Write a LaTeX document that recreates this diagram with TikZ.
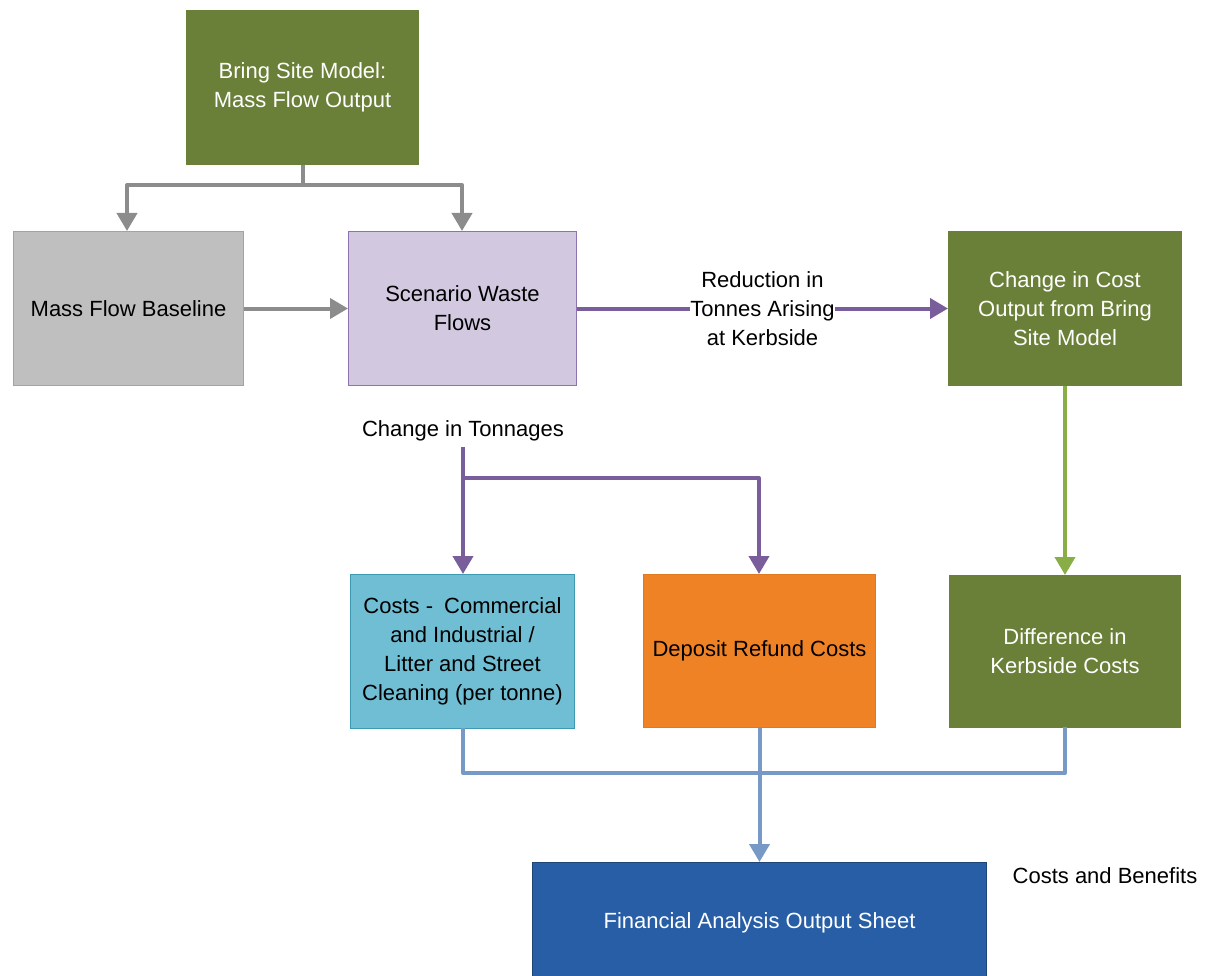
\documentclass[tikz,border=0pt]{standalone}
\usepackage{fontspec}
\setmainfont{Liberation Sans}
\usetikzlibrary{arrows.meta}
\definecolor{olive}{HTML}{6A7F37}
\definecolor{oliveline}{HTML}{8AAE47}
\definecolor{grayfill}{HTML}{BFBFBF}
\definecolor{grayline}{HTML}{8C8C8C}
\definecolor{lavfill}{HTML}{D2C9E0}
\definecolor{lavline}{HTML}{8F73B0}
\definecolor{purp}{HTML}{7A5E9C}
\definecolor{cyanfill}{HTML}{70BED3}
\definecolor{cyanline}{HTML}{3C9AB2}
\definecolor{orangefill}{HTML}{F08226}
\definecolor{orangeline}{HTML}{E07A20}
\definecolor{bluefill}{HTML}{285EA6}
\definecolor{blueline}{HTML}{1D4577}
\definecolor{lblue}{HTML}{7799C6}
\tikzset{
  box/.style={draw, line width=1pt, align=center, inner sep=0pt, anchor=north west, font=\fontsize{22}{29}\selectfont},
  conn/.style={line width=4pt, -{Triangle[length=18pt,width=20pt]}},
  plain/.style={line width=4pt},
  lbl/.style={align=center, text=black, font=\fontsize{22}{29}\selectfont, inner sep=2pt}
}
\begin{document}
\begin{tikzpicture}[x=1pt,y=-1pt]
\useasboundingbox (0,0) rectangle (1215,976);
% boxes
\node[box, fill=olive, draw=olive, text=white, minimum width=232pt, minimum height=154pt] (bring) at (186,10) {Bring Site Model:\\Mass Flow Output};
\node[box, fill=grayfill, draw=grayline!80, minimum width=230pt, minimum height=154pt] (base) at (13,231) {Mass Flow Baseline};
\node[box, fill=lavfill, draw=lavline, minimum width=228pt, minimum height=154pt] (scen) at (348,231) {Scenario Waste\\Flows};
\node[box, fill=olive, draw=olive, text=white, minimum width=233pt, minimum height=154pt] (cost) at (948,231) {Change in Cost\\Output from Bring\\Site Model};
\node[box, fill=cyanfill, draw=cyanline, minimum width=224pt, minimum height=154pt] (ci) at (350,574) {Costs -\enspace Commercial\\and Industrial /\\Litter and Street\\Cleaning (per tonne)};
\node[box, fill=orangefill, draw=orangeline, minimum width=232pt, minimum height=153pt] (dep) at (643,574) {Deposit Refund Costs};
\node[box, fill=olive, draw=olive, text=white, minimum width=231pt, minimum height=152pt] (diff) at (949,575) {Difference in\\Kerbside Costs};
\node[box, fill=bluefill, draw=blueline, text=white, minimum width=454pt, minimum height=120pt] (fin) at (532,862) {Financial Analysis Output Sheet};
% labels
\node[lbl] (tonn) at (463,431) {Change in Tonnages};
\node[lbl] (cb) at (1105,876) {Costs and Benefits};
% gray connectors
\coordinate (gsplit) at (bring.south |- 0,185);
\draw[plain, grayline] (bring.south) -- (gsplit);
\draw[conn, grayline, line join=round] (gsplit) -| (127,231);
\draw[conn, grayline, line join=round] (gsplit) -| (462,231);
\draw[conn, grayline] (base.east) -- (scen.west);
% purple reduction
\draw[conn, purp] (scen.east) -- (cost.west)
  node[pos=0.5, fill=white, lbl, inner sep=0pt] (red) {Reduction in\\Tonnes Arising\\at Kerbside};
% purple tonnages
\coordinate (ptop) at (463,447);
\coordinate (psplit) at (463,478);
\draw[conn, purp] (ptop) -- (463,574);
\draw[conn, purp, line join=round] (psplit) -| (759,574);
% green
\draw[conn, oliveline] (cost.south) -- (diff.north);
% blue
\coordinate (bl) at (463,773);
\coordinate (br) at (1065,773);
\draw[plain, lblue, line join=round] (463,728) -- (bl) -- (br) -- (1065,727);
\draw[conn, lblue] (dep.south) -- (fin.north);
\end{tikzpicture}
\end{document}
